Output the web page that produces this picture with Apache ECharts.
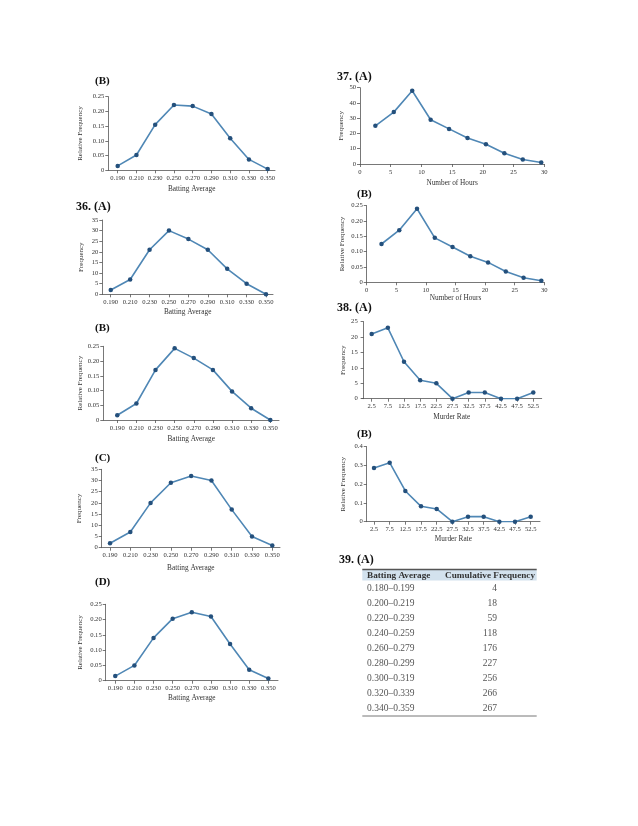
<!DOCTYPE html>
<html><head><meta charset="utf-8">
<script src="https://cdn.jsdelivr.net/npm/echarts@6/dist/echarts.min.js"></script>
<style>html,body{margin:0;padding:0;background:#fff}#c{width:638px;height:826px}</style>
</head><body><div id="c"></div>
<script>
// ---- data ----
const battingAverages = [0.190,0.210,0.230,0.250,0.270,0.290,0.310,0.330,0.350];
const relFreq35B = [0.015,0.052,0.155,0.222,0.218,0.191,0.109,0.037,0.004];
const freq36A = [2,7,21,30,26,21,12,5,0];
const relFreq36B = [0.016,0.056,0.170,0.243,0.210,0.170,0.097,0.040,0.000];
const freq36C = [2,7,20,29,32,30,17,5,1];
const relFreq36D = [0.015,0.050,0.140,0.203,0.224,0.210,0.120,0.036,0.007];
const hours = [2.5,5.5,8.5,11.5,14.5,17.5,20.5,23.5,26.5,29.5];
const freq37A = [25,34,48,29,23,17,13,7,3,1];
const relFreq37B = [0.125,0.170,0.240,0.145,0.115,0.085,0.065,0.035,0.015,0.005];
const murderRates = [2.5,7.5,12.5,17.5,22.5,27.5,32.5,37.5,42.5,47.5,52.5];
const freq38A = [21,23,12,6,5,0,2,2,0,0,2];
const relFreq38B = [0.287,0.315,0.164,0.082,0.068,0,0.027,0.027,0,0,0.027];
const tableRanges = ['0.180–0.199','0.200–0.219','0.220–0.239','0.240–0.259','0.260–0.279','0.280–0.299','0.300–0.319','0.320–0.339','0.340–0.359'];
const cumulativeFreq = [4,18,59,118,176,227,256,266,267];
const tableHeaders = ['Batting Average','Cumulative Frequency'];

// ---- layout ----
const FONT = 'Liberation Serif';
const LINE = '#4f87b5', MARK = '#24507c', TXT = '#333';
const fmt2 = v => v === 0 ? '0' : v.toFixed(2);
const fmt1 = v => v === 0 ? '0' : v.toFixed(1);
const fmt3 = v => v.toFixed(3);

const panels = [
 {label:'(B)', lx:95, ly:82, ls:11, g:[108.3,96.7,166.7,73.6], xs:battingAverages, ys:relFreq35B, xmin:0.180, xmax:0.3578, xname:'Batting Average', yname:'Relative Frequency', ymax:0.25, yint:0.05, yf:fmt2, ygap:24.5, xgap:15},
 {label:'36. (A)', lx:76, ly:208, ls:12, g:[102.3,220,170.7,74.3], xs:battingAverages, ys:freq36A, xmin:0.1813, xmax:0.3572, xname:'Batting Average', yname:'Frequency', ymax:35, yint:5, yf:v=>v, ygap:17.5, xgap:14},
 {label:'(B)', lx:95, ly:329, ls:11, g:[103.3,346.3,175.7,73.7], xs:battingAverages, ys:relFreq36B, xmin:0.1754, xmax:0.3591, xname:'Batting Average', yname:'Relative Frequency', ymax:0.25, yint:0.05, yf:fmt2, ygap:18, xgap:15.5},
 {label:'(C)', lx:95, ly:459, ls:11, g:[101.7,469.3,178.3,78.4], xs:battingAverages, ys:freq36C, xmin:0.1818, xmax:0.3576, xname:'Batting Average', yname:'Frequency', ymax:35, yint:5, yf:v=>v, ygap:19.5, xgap:16.5},
 {label:'(D)', lx:95, ly:583, ls:11, g:[105.7,604.3,172.3,76.4], xs:battingAverages, ys:relFreq36D, xmin:0.180, xmax:0.3601, xname:'Batting Average', yname:'Relative Frequency', ymax:0.25, yint:0.05, yf:fmt2, ygap:22, xgap:13.5},
 {label:'37. (A)', lx:337, ly:78, ls:12, g:[360,87.7,184.3,76.3], xs:hours, ys:freq37A, xmin:0, xmax:30, xint:5, xname:'Number of Hours', yname:'Frequency', ymax:50, yint:10, yf:v=>v, ygap:15, xgap:15.5},
 {label:'(B)', lx:357, ly:195, ls:11, g:[366.7,205.7,177.6,76.6], xs:hours, ys:relFreq37B, xmin:0, xmax:30, xint:5, xname:'Number of Hours', yname:'Relative Frequency', ymax:0.25, yint:0.05, yf:fmt2, ygap:21.5, xgap:12.5},
 {label:'38. (A)', lx:337, ly:309, ls:12, g:[361.7,321.7,180,77], xs:murderRates, ys:freq38A, xmin:-0.59, xmax:55.1, xname:'Murder Rate', yname:'Frequency', ymax:25, yint:5, yf:v=>v, ygap:15.5, xgap:14.5, xf:fmt1},
 {label:'(B)', lx:357, ly:435, ls:11, g:[366.7,446.7,173.3,75], xs:murderRates, ys:relFreq38B, xmin:0.17, xmax:55.47, xname:'Murder Rate', yname:'Relative Frequency', ymax:0.4, yint:0.1, yf:fmt1, ygap:20.5, xgap:13.8, xf:fmt1}
];

const grid = [], xAxis = [], yAxis = [], series = [], graphic = [];
const axisLineStyle = {color:'#555', width:0.8};
panels.forEach((p, i) => {
  grid.push({left:p.g[0], top:p.g[1], width:p.g[2], height:p.g[3], containLabel:false});
  const xa = {
    gridIndex:i, type:'value', min:p.xmin, max:p.xmax,
    name:p.xname, nameLocation:'middle', nameGap:p.xgap,
    nameTextStyle:{fontFamily:FONT, fontSize:7.3, color:TXT},
    axisLine:{show:true, lineStyle:axisLineStyle},
    axisTick:{show:true, length:3, lineStyle:axisLineStyle},
    axisLabel:{fontFamily:FONT, fontSize:6.6, color:TXT, margin:4.5},
    splitLine:{show:false}
  };
  if (p.xint) {
    xa.interval = p.xint;
  } else {
    xa.axisLabel.customValues = p.xs;
    xa.axisTick.customValues = p.xs;
    xa.axisLabel.formatter = p.xf || fmt3;
  }
  xAxis.push(xa);
  yAxis.push({
    gridIndex:i, type:'value', min:0, max:p.ymax, interval:p.yint,
    name:p.yname, nameLocation:'middle', nameGap:p.ygap,
    nameTextStyle:{fontFamily:FONT, fontSize:7, color:TXT},
    axisLine:{show:true, lineStyle:axisLineStyle},
    axisTick:{show:true, length:3, lineStyle:axisLineStyle},
    axisLabel:{fontFamily:FONT, fontSize:6.6, color:TXT, margin:4, formatter:p.yf},
    splitLine:{show:false}
  });
  series.push({
    type:'line', xAxisIndex:i, yAxisIndex:i,
    data:p.xs.map((x, k) => [x, p.ys[k]]),
    symbol:'circle', symbolSize:4.5,
    lineStyle:{color:LINE, width:1.6},
    itemStyle:{color:MARK},
    animation:false, silent:true
  });
  graphic.push({type:'text', left:p.lx, top:p.ly - p.ls * 0.6,
    style:{text:p.label, fontFamily:FONT, fontWeight:'bold', fontSize:p.ls, fill:'#111'}});
});

// ---- table 39 (A) ----
graphic.push({type:'text', left:339, top:553.5,
  style:{text:'39. (A)', fontFamily:FONT, fontWeight:'bold', fontSize:12, fill:'#111'}});
graphic.push({type:'rect', shape:{x:362.3, y:569.5, width:174.4, height:11}, style:{fill:'#d3e2ee'}});
graphic.push({type:'line', shape:{x1:362.3, y1:569.5, x2:536.7, y2:569.5}, style:{stroke:'#555', lineWidth:1.3}});
graphic.push({type:'line', shape:{x1:362.3, y1:716, x2:536.7, y2:716}, style:{stroke:'#777', lineWidth:1}});
graphic.push({type:'text', x:367, y:575.5,
  style:{text:tableHeaders[0], fontFamily:FONT, fontWeight:'bold', fontSize:9.2, fill:'#333', textAlign:'left', textVerticalAlign:'middle'}});
graphic.push({type:'text', x:535, y:575.5,
  style:{text:tableHeaders[1], fontFamily:FONT, fontWeight:'bold', fontSize:9.2, fill:'#333', textAlign:'right', textVerticalAlign:'middle'}});
tableRanges.forEach((r, k) => {
  const y = 588 + k * 15.1;
  graphic.push({type:'text', x:367, y:y,
    style:{text:r, fontFamily:FONT, fontSize:9.5, fill:'#555', textAlign:'left', textVerticalAlign:'middle'}});
  graphic.push({type:'text', x:497, y:y,
    style:{text:String(cumulativeFreq[k]), fontFamily:FONT, fontSize:9.5, fill:'#555', textAlign:'right', textVerticalAlign:'middle'}});
});

const chart = echarts.init(document.getElementById('c'), null, {renderer:'canvas'});
chart.setOption({backgroundColor:'#fff', animation:false, grid, xAxis, yAxis, series, graphic});
</script>
</body></html>
